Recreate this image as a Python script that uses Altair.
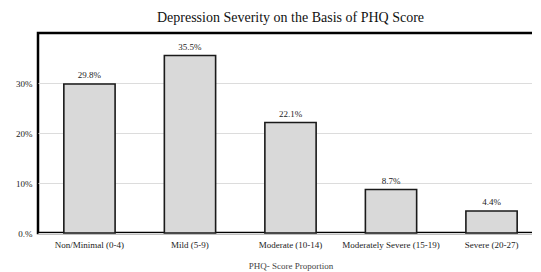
import altair as alt
import pandas as pd

categories = ["Non/Minimal (0-4)", "Mild (5-9)", "Moderate (10-14)",
              "Moderately Severe (15-19)", "Severe (20-27)"]
values = [29.8, 35.5, 22.1, 8.7, 4.4]
labels = ["29.8%", "35.5%", "22.1%", "8.7%", "4.4%"]

df = pd.DataFrame({"cat": categories, "val": values, "lab": labels})

FONT = "Liberation Serif"

x = alt.X("cat:N", sort=categories,
          scale=alt.Scale(paddingInner=0.49, paddingOuter=0.257),
          axis=alt.Axis(title="PHQ- Score Proportion", labelAngle=0, ticks=False,
                        domain=False, labelFontSize=9, labelFont=FONT,
                        labelColor="#222", labelPadding=7, titleFont=FONT,
                        titleFontSize=9, titleFontWeight="normal",
                        titleColor="#444", titlePadding=12))
y = alt.Y("val:Q", scale=alt.Scale(domain=[0, 40]),
          axis=alt.Axis(title=None, values=[0, 10, 20, 30], ticks=False,
                        domain=False, grid=True, gridColor="#dcdcdc",
                        gridWidth=1.2,
                        labelExpr="datum.value == 0 ? '0.%' : datum.value + '%'",
                        labelFont=FONT, labelFontSize=9, labelColor="#222",
                        labelPadding=6))

bars = alt.Chart(df).mark_bar(fill="#d9d9d9", stroke="#1a1a1a",
                              strokeWidth=1.6).encode(x=x, y=y)
text = alt.Chart(df).mark_text(font=FONT, fontSize=9, dy=-9,
                               color="#222").encode(x=x, y=y, text="lab:N")

chart = (bars + text).properties(
    width=505, height=200,
    title=alt.TitleParams("Depression Severity on the Basis of PHQ Score",
                          font=FONT, fontSize=14, fontWeight="normal",
                          color="#111", offset=8),
    autosize=alt.AutoSizeParams(type="none"),
    padding={"left": 30, "top": 25, "right": -11, "bottom": 38},
).configure(background="white").configure_view(stroke="#000", strokeWidth=2.5)

chart.save("out.html", embed_options={"renderer": "svg", "actions": False})
